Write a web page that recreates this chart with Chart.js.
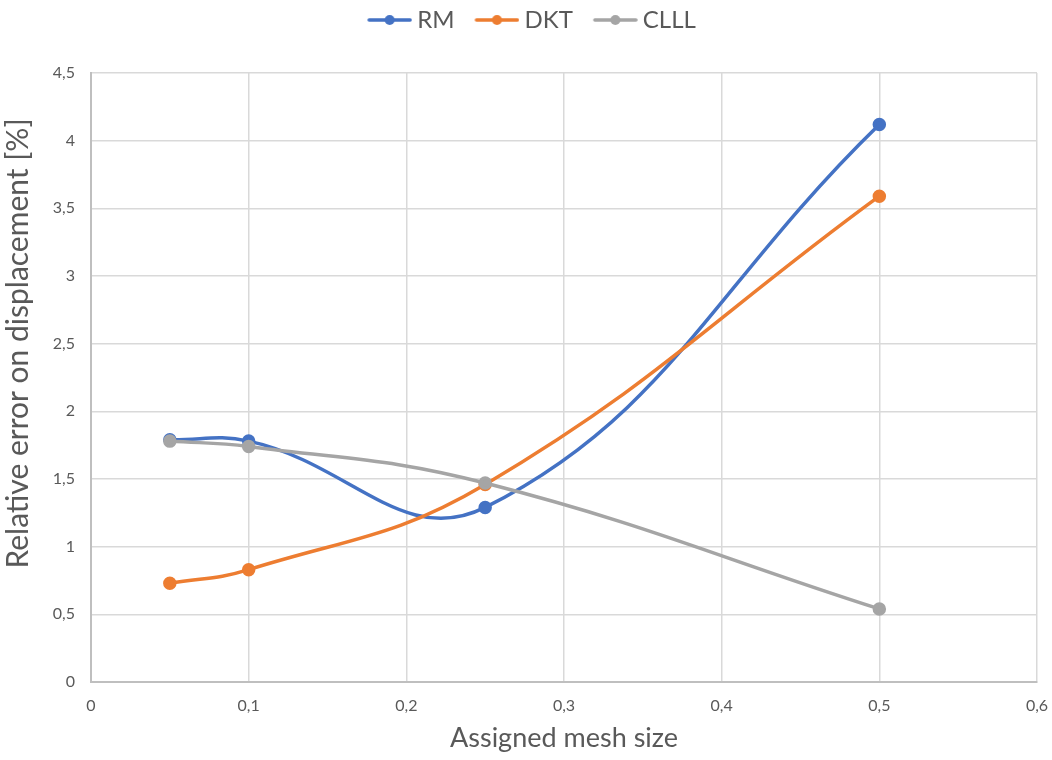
<!DOCTYPE html>
<html>
<head>
<meta charset="utf-8">
<script src="https://cdn.jsdelivr.net/npm/chart.js@4/dist/chart.umd.min.js"></script>
<style>
  html, body { margin: 0; padding: 0; background: #fff; }
  #wrap { width: 1052px; height: 760px; }
</style>
</head>
<body>
<div id="wrap"><canvas id="chart" width="1052" height="760"></canvas></div>
<script>
// mesh sizes and relative errors (%)
const meshSizes = [0.05, 0.1, 0.25, 0.5];
const rmValues = [1.79, 1.78, 1.29, 4.12];
const dktValues = [0.73, 0.83, 1.46, 3.59];
const clllValues = [1.78, 1.74, 1.47, 0.54];

const seriesNames = ["RM", "DKT", "CLLL"];
const seriesColors = ["#4472C4", "#ED7D31", "#A5A5A5"];

const textColor = "#595959";
const fontFamily = "Lato, 'Open Sans', sans-serif";

const toPoints = (values) => values.map((v, i) => ({ x: meshSizes[i], y: v }));
const commaNumber = (v) => String(Math.round(v * 10) / 10).replace(".", ",");

/**
 * Legend marker: short line with a dot in the middle.
 * The image is wider than the legend box so the line sits close to the text.
 */
const legendMarker = (color) => {
  const c = document.createElement("canvas");
  c.width = 64;
  c.height = 12;
  const ctx = c.getContext("2d");
  ctx.strokeStyle = color;
  ctx.lineWidth = 3.5;
  ctx.lineCap = "round";
  ctx.beginPath();
  ctx.moveTo(21, 6);
  ctx.lineTo(62, 6);
  ctx.stroke();
  ctx.fillStyle = color;
  ctx.beginPath();
  ctx.arc(41.5, 6, 5, 0, Math.PI * 2);
  ctx.fill();
  return c;
};

const allValues = [rmValues, dktValues, clllValues];
const legendImages = seriesColors.map(legendMarker);

const datasets = seriesNames.map((name, i) => ({
  label: name,
  data: toPoints(allValues[i]),
  borderColor: seriesColors[i],
  backgroundColor: seriesColors[i],
  borderWidth: 3.5,
  pointRadius: 5,
  pointHoverRadius: 5,
  showLine: true,
  tension: 0.42,
  order: 2 - i,
}));

// push the plot area down below the legend, like the original layout
const legendSpacer = {
  id: "legendSpacer",
  beforeInit(chart) {
    const origFit = chart.legend.fit;
    chart.legend.fit = function () {
      origFit.call(this);
      this.height += 31;
    };
  },
};

new Chart(document.getElementById("chart").getContext("2d"), {
  type: "scatter",
  data: { datasets },
  plugins: [legendSpacer],
  options: {
    responsive: false,
    animation: false,
    layout: { padding: { top: 0, right: 1, left: 0, bottom: 0 } },
    plugins: {
      tooltip: { enabled: false },
      legend: {
        position: "top",
        labels: {
          usePointStyle: true,
          pointStyleWidth: 50,
          color: textColor,
          font: { family: fontFamily, size: 24 },
          padding: 8,
          generateLabels: () =>
            seriesNames.map((name, i) => ({
              text: name,
              fontColor: textColor,
              pointStyle: legendImages[i],
              lineWidth: 0,
              datasetIndex: i,
              hidden: false,
            })),
        },
      },
    },
    scales: {
      x: {
        type: "linear",
        min: 0,
        max: 0.6,
        ticks: {
          stepSize: 0.1,
          color: textColor,
          font: { family: fontFamily, size: 16 },
          padding: 14,
          callback: (v) => commaNumber(v),
        },
        grid: { color: "#D9D9D9", lineWidth: 1.5, drawTicks: false },
        border: { color: "#BFBFBF", width: 2 },
        title: {
          display: true,
          text: "Assigned mesh size",
          color: textColor,
          font: { family: fontFamily, size: 27 },
          padding: { top: 4, bottom: 6 },
        },
        afterFit: (axis) => {
          axis.height = 78;
          axis.paddingRight = 15;
        },
      },
      y: {
        min: 0,
        max: 4.5,
        ticks: {
          stepSize: 0.5,
          color: textColor,
          font: { family: fontFamily, size: 16 },
          padding: 16,
          callback: (v) => commaNumber(v),
        },
        grid: { color: "#D9D9D9", lineWidth: 1.5, drawTicks: false },
        border: { color: "#BFBFBF", width: 2 },
        title: {
          display: true,
          text: "Relative error on displacement [%]",
          color: textColor,
          font: { family: fontFamily, size: 30 },
          padding: { top: 0, bottom: 4 },
        },
        afterFit: (axis) => {
          axis.width = 91;
          // the original title sits a bit above the middle of the axis
          if (!axis.titleShifted) {
            const drawTitle = axis.drawTitle;
            axis.drawTitle = function () {
              this.ctx.save();
              this.ctx.translate(0, -34);
              drawTitle.call(this);
              this.ctx.restore();
            };
            axis.titleShifted = true;
          }
        },
      },
    },
  },
});
</script>
</body>
</html>
